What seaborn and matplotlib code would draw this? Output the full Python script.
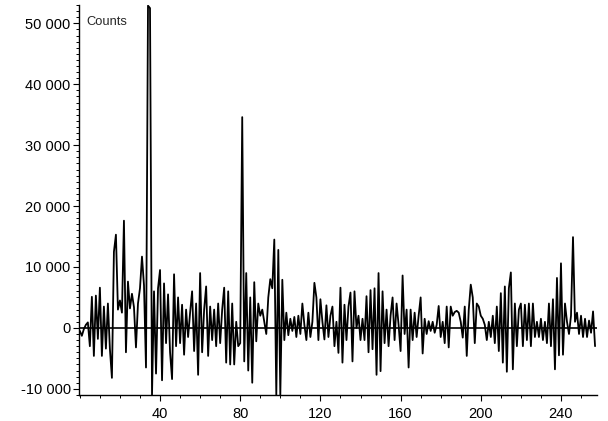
import numpy as np
import pandas as pd
import matplotlib
matplotlib.use("Agg")
import matplotlib.pyplot as plt
import matplotlib.ticker as mticker
import seaborn as sns

# -------------------------------
# Data (counts in thousands, one value per unit step on x)
# -------------------------------
x_start = 0
x_step = 1
counts_k = [
    -0.5, -1.3, -0.2, 0.5, 0.9, -3.0, 5.1, -4.6, 5.3, -1.8,          # 0-9
    6.6, -4.6, 3.5, -3.4, 4.0, -3.5, -8.2, 12.5, 15.3, 3.0,         # 10-19
    4.5, 2.5, 17.6, -4.0, 7.6, 3.2, 5.6, 3.4, -3.2, 4.0,            # 20-29
    6.5, 11.7, 7.0, -6.5, 52.9, 52.5, -11.0, 6.0, -7.5, 6.5,        # 30-39
    9.5, -8.6, 7.3, -2.5, 5.5, -4.0, -8.4, 8.8, -3.0, 5.0,          # 40-49
    -2.5, 3.8, -4.4, 3.0, -1.5, 2.5, 6.0, -3.8, 4.0, -7.7,          # 50-59
    9.0, -4.0, 3.0, 6.8, -4.6, 3.5, -2.0, 3.0, -3.0, 4.0,           # 60-69
    -2.5, 3.0, 6.6, -5.7, 6.0, -6.0, 4.0, -6.0, 1.0, -3.0,          # 70-79
    -2.5, 34.6, -5.5, 9.0, -7.0, 5.0, -9.0, 7.5, -2.2, 4.0,         # 80-89
    2.0, 3.0, 1.0, -1.0, 5.0, 8.0, 6.5, 14.5, -11.0, 12.8,          # 90-99
    -11.0, 7.9, -2.0, 2.5, -1.2, 1.5, -0.5, 1.8, -1.5, 2.0,         # 100-109
    -1.0, 4.0, 0.5, -2.0, 2.5, -1.5, 1.0, 7.4, 5.0, -2.0,           # 110-119
    4.7, 1.0, -1.9, 3.7, -1.5, 2.0, 3.5, -3.0, 1.0, -4.1,           # 120-129
    6.6, -5.7, 3.8, -2.0, 3.5, 5.8, -5.5, 6.0, 0.0, 2.0,            # 130-139
    -2.0, 1.5, -2.0, 5.2, -4.0, 6.2, -3.5, 6.5, -7.7, 9.0,          # 140-149
    -7.1, 6.0, -2.5, 3.0, -3.0, 2.0, 5.0, -2.0, 4.0, 0.5,           # 150-159
    -3.8, 8.6, -1.0, 3.0, -6.5, 3.0, -2.0, 2.5, -1.5, 2.0,          # 160-169
    5.0, -4.2, 1.5, -1.0, 1.1, -0.5, 1.0, -0.8, 0.5, 3.6,           # 170-179
    -1.5, 1.0, -2.5, 3.5, -3.2, 3.5, 2.0, 2.6, 2.8, 2.5,            # 180-189
    1.0, -1.6, 3.5, -4.6, 3.0, 7.1, 5.0, -2.5, 4.0, 3.5,            # 190-199
    2.0, 1.5, 0.5, -2.0, 1.0, -1.5, 2.0, -2.5, 3.5, -3.8,           # 200-209
    5.7, -5.7, 6.8, -7.2, 6.5, 9.1, -6.8, 4.0, -3.0, 3.0,           # 210-219
    4.0, -3.0, 3.8, -2.0, 4.0, -3.0, 4.0, -1.5, 1.0, -1.5,          # 220-229
    1.5, -2.0, 1.0, -2.5, 4.0, -3.0, 4.7, -6.8, 8.2, -4.5,          # 230-239
    10.6, -4.4, 4.0, 1.0, -1.0, 2.0, 14.9, 1.0, 2.5, -1.0,          # 240-249
    2.0, -1.5, 1.5, -1.5, 1.2, -0.8, 2.7, -3.0,                     # 250-257
]

x_ticks = [40, 80, 120, 160, 200, 240]
y_ticks = [-10000, 0, 10000, 20000, 30000, 40000, 50000]

df = pd.DataFrame({
    "x": x_start + x_step * np.arange(len(counts_k)),
    "Counts": np.array(counts_k) * 1000,
})

# -------------------------------
# Plot
# -------------------------------
sns.set_theme(style="ticks")
plt.rcParams["font.family"] = ["Liberation Sans", "DejaVu Sans"]

fig = plt.figure(figsize=(6.08, 4.21), dpi=100)
ax = fig.add_axes([0.130, 0.062, 0.852, 0.926])

sns.lineplot(data=df, x="x", y="Counts", color="black", linewidth=1.3,
             estimator=None, ax=ax)
ax.axhline(0, color="black", linewidth=1.2, zorder=3)

ax.set_xlim(-0.4, 258)
ax.set_ylim(-11000, 53000)

ax.set_xticks(x_ticks)
ax.set_yticks(y_ticks)
ax.xaxis.set_minor_locator(mticker.MultipleLocator(10))
ax.yaxis.set_minor_locator(mticker.MultipleLocator(1000))
ax.yaxis.set_major_formatter(
    mticker.FuncFormatter(lambda v, p: f"{int(v):,}".replace(",", " ")))

ax.tick_params(axis="both", which="major", length=4, width=0.8,
               labelsize=10.5, colors="black")
ax.tick_params(axis="y", which="major", pad=2)
ax.tick_params(axis="x", which="major", pad=5)
ax.tick_params(axis="both", which="minor", length=2.2, width=0.7,
               colors="black")

for side in ["top", "right"]:
    ax.spines[side].set_visible(False)
for side in ["left", "bottom"]:
    ax.spines[side].set_color("black")
    ax.spines[side].set_linewidth(1.0)

ax.set_xlabel("")
ax.set_ylabel("")
ax.text(0.015, 0.957, "Counts", transform=ax.transAxes, fontsize=9.3,
        ha="left", va="center")

plt.savefig("out.png", dpi=100)
